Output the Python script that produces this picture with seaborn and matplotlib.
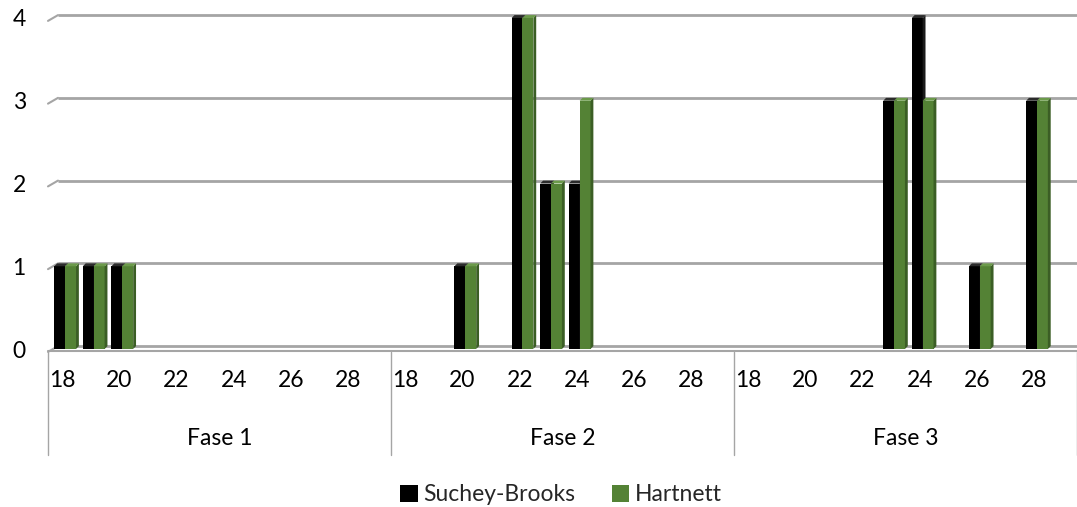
import matplotlib
matplotlib.use("Agg")
import matplotlib.pyplot as plt
from matplotlib.patches import Polygon, Patch
from matplotlib.lines import Line2D
import matplotlib.transforms as mtransforms
import seaborn as sns
import pandas as pd

# Conteos por fase y edad (18-29) para cada método
fases = ["Fase 1", "Fase 2", "Fase 3"]
edades = list(range(18, 30))
metodos = ["Suchey-Brooks", "Hartnett"]

suchey_f1 = [1, 1, 1, 0, 0, 0, 0, 0, 0, 0, 0, 0]
hartnett_f1 = [1, 1, 1, 0, 0, 0, 0, 0, 0, 0, 0, 0]
suchey_f2 = [0, 0, 1, 0, 4, 2, 2, 0, 0, 0, 0, 0]
hartnett_f2 = [0, 0, 1, 0, 4, 2, 3, 0, 0, 0, 0, 0]
suchey_f3 = [0, 0, 0, 0, 0, 3, 4, 0, 1, 0, 3, 0]
hartnett_f3 = [0, 0, 0, 0, 0, 3, 3, 0, 1, 0, 3, 0]

y_ticks = [0, 1, 2, 3, 4]

series = {
    "Suchey-Brooks": [suchey_f1, suchey_f2, suchey_f3],
    "Hartnett": [hartnett_f1, hartnett_f2, hartnett_f3],
}

rows = []
for metodo in metodos:
    for fase, valores in zip(fases, series[metodo]):
        for edad, v in zip(edades, valores):
            rows.append({"slot": f"{fase}|{edad}", "fase": fase, "edad": edad,
                         "metodo": metodo, "n": v})
df = pd.DataFrame(rows)
slots = [f"{f}|{e}" for f in fases for e in edades]

colores = {"Suchey-Brooks": "#000000", "Hartnett": "#548235"}
lados = {"Suchey-Brooks": "#1a1a1a", "Hartnett": "#3b5e25"}
techos = {"Suchey-Brooks": "#2b2b2b", "Hartnett": "#6b9a4a"}
capas = {"Suchey-Brooks": 3.0, "Hartnett": 4.0}

sns.set_theme(style="white")
plt.rcParams["font.family"] = ["Lato", "DejaVu Sans"]

fig = plt.figure(figsize=(10.77, 5.07), dpi=100)
ax = fig.add_axes([48 / 1077, 1 - 349 / 507, 1 - 48 / 1077, 331 / 507])

sns.barplot(data=df, x="slot", y="n", hue="metodo", order=slots,
            hue_order=metodos, palette=colores, width=0.76, saturation=1,
            legend=False, ax=ax, linewidth=0, zorder=3)

ax.set_xlim(-0.5, len(slots) - 0.5)
ax.set_ylim(0, 4)

# Rejilla con el pequeño bisel de la pared posterior
dx_g, dy_g = 0.35, 0.07
for v in y_ticks:
    ax.plot([-0.5 + dx_g, len(slots) - 0.5], [v + dy_g * 0.5, v + dy_g * 0.5],
            color="#a5a5a5", lw=2, zorder=1, clip_on=False, solid_capstyle="butt")
    ax.plot([-0.5, -0.5 + dx_g], [v - dy_g * 0.5, v + dy_g * 0.5],
            color="#a5a5a5", lw=1.5, zorder=1, clip_on=False)
ax.plot([-0.5, len(slots) - 0.5], [-0.03, -0.03], color="#a5a5a5", lw=1.5,
        zorder=1, clip_on=False)

# Caras laterales y superiores de cada columna
n_per = len(slots)
dx, dy = 0.1, 0.035
for i, bar in enumerate(ax.patches):
    metodo = metodos[i // n_per]
    z = capas[metodo]
    bar.set_x(bar.get_x() + 0.1)
    h = bar.get_height()
    if h <= 0:
        bar.set_visible(False)
        continue
    bar.set_zorder(z)
    x0 = bar.get_x()
    w = bar.get_width()
    side = Polygon([(x0 + w, 0), (x0 + w + dx, dy), (x0 + w + dx, h + dy), (x0 + w, h)],
                   closed=True, facecolor=lados[metodo], edgecolor="none",
                   zorder=z + 0.5, clip_on=False)
    top = Polygon([(x0, h), (x0 + w, h), (x0 + w + dx, h + dy), (x0 + dx, h + dy)],
                  closed=True, facecolor=techos[metodo], edgecolor="none",
                  zorder=z + 0.5, clip_on=False)
    ax.add_patch(side)
    ax.add_patch(top)
    bar.set_clip_on(False)

for s in ax.spines.values():
    s.set_visible(False)

fs = 16.5
ax.set_yticks(y_ticks)
ax.set_yticklabels([str(v) for v in y_ticks], fontsize=fs, color="black")
ax.tick_params(axis="y", length=0, pad=16)

ax.set_xticks(range(len(slots)))
ax.set_xticklabels([str(e) if e % 2 == 0 else "" for f in fases for e in edades],
                   fontsize=fs, color="black")
ax.tick_params(axis="x", length=0, pad=15)
ax.set_xlabel("")
ax.set_ylabel("")

trans = mtransforms.blended_transform_factory(ax.transData, ax.transAxes)
for k in range(len(fases) + 1):
    xb = k * len(edades) - 0.5
    ax.add_line(Line2D([xb, xb], [-0.01, -0.32], transform=trans, color="#a5a5a5",
                       lw=1, clip_on=False))
for k, fase in enumerate(fases):
    xc = k * len(edades) + (len(edades) - 1) / 2
    ax.text(xc, -0.27, fase, transform=trans, ha="center", va="center",
            fontsize=fs, color="black")

handles = [Patch(facecolor=colores[m], edgecolor="none", label=m) for m in metodos]
fig.legend(handles=handles, loc="center", bbox_to_anchor=(0.521, 0.024), ncol=2,
           frameon=False, fontsize=fs, handlelength=0.75, handleheight=0.75,
           handletextpad=0.25, columnspacing=1.6)

fig.savefig("out.png", dpi=100)
